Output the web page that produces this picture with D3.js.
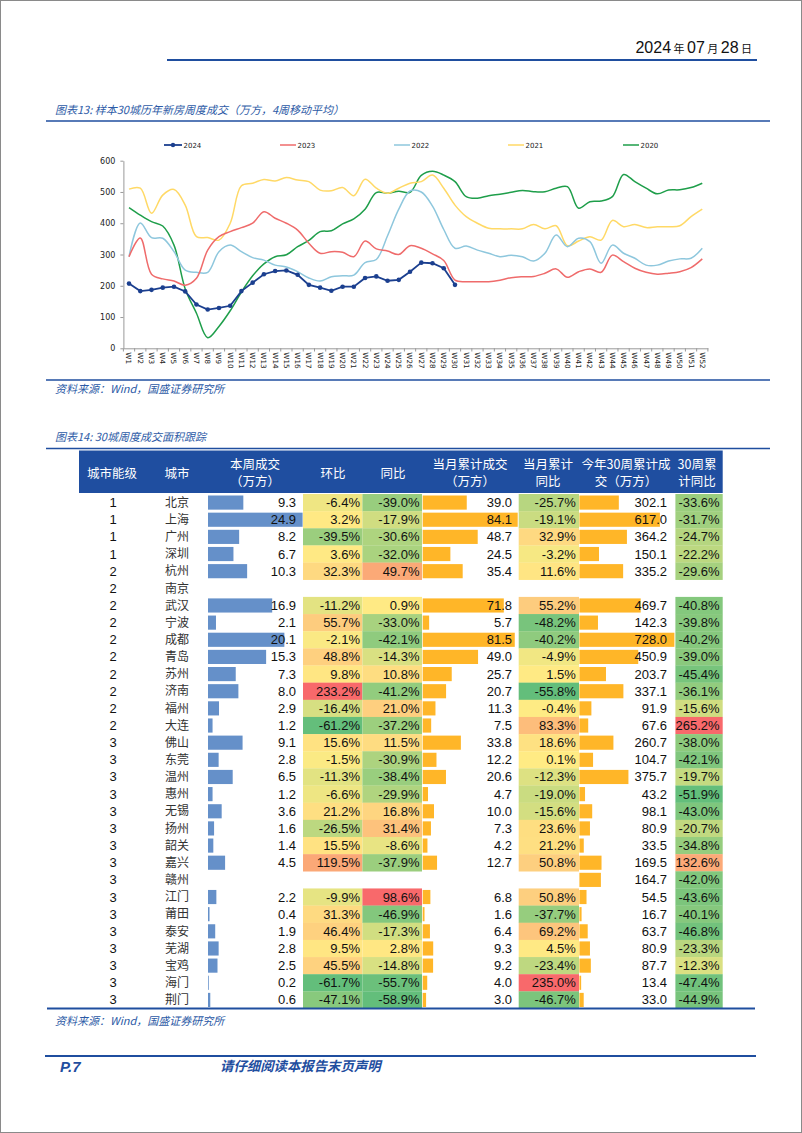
<!DOCTYPE html>
<html><head><meta charset="utf-8">
<script src="https://cdn.jsdelivr.net/npm/d3@7"></script>
<style>body{margin:0;background:#fff}svg{display:block}</style>
</head><body>
<svg id="page" width="802" height="1133"></svg>
<script>
// ---------- Line chart data ----------
const weeks = ["W1","W2","W3","W4","W5","W6","W7","W8","W9","W10","W11","W12","W13","W14","W15","W16","W17","W18","W19","W20","W21","W22","W23","W24","W25","W26","W27","W28","W29","W30","W31","W32","W33","W34","W35","W36","W37","W38","W39","W40","W41","W42","W43","W44","W45","W46","W47","W48","W49","W50","W51","W52"];
const yTicks = [0,100,200,300,400,500,600];
const seriesNames = ["2024","2023","2022","2021","2020"];
const s2024 = [207,183,187,194,197,182,140,124,129,136,183,210,237,247,249,235,203,194,184,197,197,225,230,216,219,245,274,272,256,203];
const s2023 = [293,353,237,222,215,202,224,314,357,373,386,400,437,416,400,378,336,304,309,307,293,343,318,311,300,328,320,302,281,218,213,213,213,218,226,229,230,240,254,227,245,254,243,298,277,256,243,237,240,245,258,286];
const s2022 = [293,401,354,352,309,250,243,243,309,330,309,290,282,266,260,245,225,215,229,232,234,274,284,360,445,503,500,455,380,320,327,314,304,293,298,293,279,304,362,325,352,341,272,330,304,288,266,266,279,286,288,320];
const s2021 = [509,512,432,490,508,458,357,354,346,400,520,528,540,535,546,538,533,506,504,514,488,541,512,496,512,528,533,554,512,458,421,400,384,382,382,382,396,382,392,328,343,357,346,409,389,396,386,389,389,392,421,445];
const s2020 = [450,426,405,391,330,190,112,34,70,120,180,232,270,293,299,325,345,373,376,398,414,445,498,496,502,499,553,566,554,533,485,480,488,493,499,505,501,501,512,517,448,469,471,485,556,533,512,494,506,507,514,528];
const seriesValues = [s2024,s2023,s2022,s2021,s2020];
const seriesColors = ["#1b3f8f","#ef6b6b","#8ec7dd","#ffd966","#1e9e4a"];

// ---------- Table data ----------
const headerLabels = [["城市能级"],["城市"],["本周成交","（万方）"],["环比"],["同比"],["当月累计成交","（万方）"],["当月累计","同比"],["今年30周累计成","交（万方）"],["30周累","计同比"]];
const tiers = [1,1,1,1,2,2,2,2,2,2,2,2,2,2,3,3,3,3,3,3,3,3,3,3,3,3,3,3,3,3];
const cities = ["北京","上海","广州","深圳","杭州","南京","武汉","宁波","成都","青岛","苏州","济南","福州","大连","佛山","东莞","温州","惠州","无锡","扬州","韶关","嘉兴","赣州","江门","莆田","泰安","芜湖","宝鸡","海门","荆门"];
const weekVol = [9.3,24.9,8.2,6.7,10.3,null,16.9,2.1,20.1,15.3,7.3,8.0,2.9,1.2,9.1,2.8,6.5,1.2,3.6,1.6,1.4,4.5,null,2.2,0.4,1.9,2.8,2.5,0.2,0.6];
const wow = [-6.4,3.2,-39.5,3.6,32.3,null,-11.2,55.7,-2.1,48.8,9.8,233.2,-16.4,-61.2,15.6,-1.5,-11.3,-6.6,21.2,-26.5,15.5,119.5,null,-9.9,31.3,46.4,9.5,45.5,-61.7,-47.1];
const yoy = [-39.0,-17.9,-30.6,-32.0,49.7,null,0.9,-33.0,-42.1,-14.3,10.8,-41.2,21.0,-37.2,11.5,-30.9,-38.4,-29.9,16.8,31.4,-8.6,-37.9,null,98.6,-46.9,-17.3,2.8,-14.8,-55.7,-58.9];
const monthVol = [39.0,84.1,48.7,24.5,35.4,null,71.8,5.7,81.5,49.0,25.7,20.7,11.3,7.5,33.8,12.2,20.6,4.7,10.0,7.3,4.2,12.7,null,6.8,1.6,6.4,9.3,9.2,4.0,3.0];
const monthYoy = [-25.7,-19.1,32.9,-3.2,11.6,null,55.2,-48.2,-40.2,-4.9,1.5,-55.8,-0.4,83.3,18.6,0.1,-12.3,-19.0,-15.6,23.6,21.2,50.8,null,50.8,-37.7,69.2,4.5,-23.4,235.0,-46.7];
const ytdVol = [302.1,617.0,364.2,150.1,335.2,null,469.7,142.3,728.0,450.9,203.7,337.1,91.9,67.6,260.7,104.7,375.7,43.2,98.1,80.9,33.5,169.5,164.7,54.5,16.7,63.7,80.9,87.7,13.4,33.0];
const ytdYoy = [-33.6,-31.7,-24.7,-22.2,-29.6,null,-40.8,-39.8,-40.2,-39.0,-45.4,-36.1,-15.6,265.2,-38.0,-42.1,-19.7,-51.9,-43.0,-20.7,-34.8,132.6,-42.0,-43.6,-40.1,-46.8,-23.3,-12.3,-47.4,-44.9];

// ---------- Styles ----------
const BLUE = "#1f4e9f";
const CJK = "'Noto Sans CJK SC', sans-serif";
const NUM = "'Liberation Sans Narrow','Arial Narrow','Liberation Sans',sans-serif";
const AX = "'DejaVu Sans', Verdana, sans-serif";

const svg = d3.select("#page");
svg.append("rect").attr("x",0.5).attr("y",0.5).attr("width",801).attr("height",1132).attr("fill","#fff").attr("stroke","#8a8a8a");

// header date
const dt = svg.append("text").attr("x",752).attr("y",53).attr("text-anchor","end").attr("fill","#111");
[["2024",16],[" 年 ",11],["07",16],[" 月 ",11],["28",16],[" 日",11]].forEach(([t,s])=>{
  dt.append("tspan").text(t).style("font-size",s+"px").style("font-family", /\d/.test(t)?NUM:CJK);
});
svg.append("line").attr("x1",167).attr("x2",757).attr("y1",60).attr("y2",60).attr("stroke",BLUE).attr("stroke-width",2);

function caption(txt, yy){
  svg.append("text").attr("x",55).attr("y",yy).text(txt).attr("fill","#2c5aa6").style("font-family",CJK).style("font-size","11px").style("font-style","italic");
}
function hline(x1,x2,yy,w){ svg.append("line").attr("x1",x1).attr("x2",x2).attr("y1",yy).attr("y2",yy).attr("stroke",BLUE).attr("stroke-width",w); }

caption("图表13: 样本30城历年新房周度成交（万方，4周移动平均）",114);
hline(46,770,121,1.5);

// ---------- Line chart ----------
const x = d3.scaleBand().domain(weeks).range([123.4,707.9]);
const xc = w => x(w) + x.bandwidth()/2;
const y = d3.scaleLinear().domain([0,600]).range([348.3,160.7]);

const gy = svg.append("g").attr("transform","translate(123.4,0)")
  .call(d3.axisLeft(y).tickValues(yTicks).tickSize(3).tickSizeOuter(0).tickPadding(5));
gy.select(".domain").attr("stroke","#999");
gy.selectAll(".tick line").attr("stroke","#999");
gy.selectAll("text").style("font-family",AX).style("font-size","8px").attr("fill","#222");

const gx = svg.append("g").attr("transform","translate(0,348.3)")
  .call(d3.axisBottom(x).tickSize(0).tickSizeOuter(0));
gx.select(".domain").attr("stroke","#999");
gx.selectAll("text").attr("transform","rotate(90)").attr("x",4).attr("y",0).attr("dy","0.35em")
  .style("text-anchor","start").style("font-family",AX).style("font-size","7.2px").attr("fill","#222");
svg.append("g").selectAll("line").data(weeks.concat(["end"])).join("line")
  .attr("x1",d=> d==="end"? x.range()[1] : x(d)).attr("x2",d=> d==="end"? x.range()[1] : x(d))
  .attr("y1",348.3).attr("y2",351.5).attr("stroke","#999");

for (let k=seriesNames.length-1;k>=0;k--){
  const gen = d3.line().x((d,i)=>xc(weeks[i])).y(d=>y(d))
    .curve(k===0 ? d3.curveLinear : d3.curveCatmullRom.alpha(0.5));
  svg.append("path").attr("d",gen(seriesValues[k])).attr("fill","none")
    .attr("stroke",seriesColors[k]).attr("stroke-width",k===0?1.8:1.5);
}
svg.append("g").selectAll("circle").data(s2024).join("circle")
  .attr("cx",(d,i)=>xc(weeks[i])).attr("cy",d=>y(d)).attr("r",2.3).attr("fill",seriesColors[0]);

// legend
const legX = [164,280,394,508,623];
seriesNames.forEach((n,k)=>{
  const lx = legX[k], len = k===0?18:16;
  svg.append("line").attr("x1",lx).attr("x2",lx+len).attr("y1",145).attr("y2",145).attr("stroke",seriesColors[k]).attr("stroke-width",k===0?1.8:1.5);
  if(k===0) svg.append("circle").attr("cx",lx+len/2).attr("cy",145).attr("r",2.2).attr("fill",seriesColors[0]);
  svg.append("text").attr("x",lx+len+1.5).attr("y",147.5).text(n).style("font-family",AX).style("font-size","7px").attr("fill","#222");
});

hline(46,770,380,1.5);
caption("资料来源：Wind，国盛证券研究所",393);

// ---------- Table ----------
caption("图表14: 30城周度成交面积跟踪",441);
hline(46,770,448.5,1.5);

svg.append("rect").attr("x",79).attr("y",450.5).attr("width",643.7).attr("height",42.5).attr("fill","#1f4ea0");
const headCenters = [112,177,255,333,393,470,548,626,697];
headerLabels.forEach((lines,i)=>{
  lines.forEach((t,j)=>{
    const yy = lines.length===1 ? 477.5 : 468.5 + j*17;
    svg.append("text").attr("x",headCenters[i]).attr("y",yy).attr("text-anchor","middle").text(t)
      .attr("fill","#fff").style("font-family",CJK).style("font-size","12.5px");
  });
});

const rowTop = 494, rowH = 17.15;
const ry = i => rowTop + i*rowH;

const GREEN="#63be7b", YELLOW="#ffeb84", RED="#f8696b";
function heatScale(arr){
  const e = d3.extent(arr.filter(v=>v!==null));
  return d3.scaleLinear().domain([e[0],0,e[1]]).range([GREEN,YELLOW,RED]).interpolate(d3.interpolateRgb);
}
function barScale(arr, w){
  return d3.scaleLinear().domain([0,d3.max(arr)]).range([0,w]);
}

// bar columns
const barCols = [
  {data:weekVol, x0:208, w:94.6, color:"#6590c9", tx:296},
  {data:monthVol, x0:422.7, w:95, color:"#ffb628", tx:512},
  {data:ytdVol, x0:579.4, w:95, color:"#ffb628", tx:667}
];
barCols.forEach(c=>{
  const s = barScale(c.data, c.w);
  const g = svg.append("g");
  c.data.forEach((v,i)=>{
    if(v===null) return;
    g.append("rect").attr("x",c.x0).attr("y",ry(i)+1.5).attr("width",s(v)).attr("height",rowH-3).attr("fill",c.color);
  });
  c.data.forEach((v,i)=>{
    if(v===null) return;
    svg.append("text").attr("x",c.tx).attr("y",ry(i)+rowH/2+4.5).attr("text-anchor","end").text(v.toFixed(1))
      .style("font-family",NUM).style("font-size","13px").attr("fill","#111");
  });
});

// heat columns
const heatCols = [
  {data:wow, x0:303, x1:362.4, tx:360},
  {data:yoy, x0:362.4, x1:422, tx:419.5},
  {data:monthYoy, x0:518.7, x1:579, tx:575.8},
  {data:ytdYoy, x0:675.4, x1:722.7, tx:719.6}
];
heatCols.forEach(c=>{
  const s = heatScale(c.data);
  c.data.forEach((v,i)=>{
    if(v===null) return;
    svg.append("rect").attr("x",c.x0).attr("y",ry(i)).attr("width",c.x1-c.x0).attr("height",rowH+0.2).attr("fill",s(v));
  });
  c.data.forEach((v,i)=>{
    if(v===null) return;
    svg.append("text").attr("x",c.tx).attr("y",ry(i)+rowH/2+4.5).attr("text-anchor","end").text(v.toFixed(1)+"%")
      .style("font-family",NUM).style("font-size","13px").attr("fill","#111");
  });
});

// tier and city
tiers.forEach((t,i)=>{
  svg.append("text").attr("x",113).attr("y",ry(i)+rowH/2+4.5).attr("text-anchor","middle").text(t)
    .style("font-family",NUM).style("font-size","13px").attr("fill","#111");
  svg.append("text").attr("x",177).attr("y",ry(i)+rowH/2+4.2).attr("text-anchor","middle").text(cities[i])
    .style("font-family",CJK).style("font-size","12px").attr("fill","#333");
});

hline(47,755,1008.5,2);
caption("资料来源：Wind，国盛证券研究所",1025);

// footer
hline(45,756,1056,2);
svg.append("text").attr("x",60).attr("y",1072).text("P.7").attr("fill","#1f4e9f")
  .style("font-family","'Liberation Sans',sans-serif").style("font-size","15px").style("font-weight","bold").style("font-style","italic");
svg.append("text").attr("x",220).attr("y",1071).text("请仔细阅读本报告末页声明").attr("fill","#1f4e9f")
  .style("font-family",CJK).style("font-size","13.4px").style("font-weight","bold").style("font-style","italic");
</script>
</body></html>
